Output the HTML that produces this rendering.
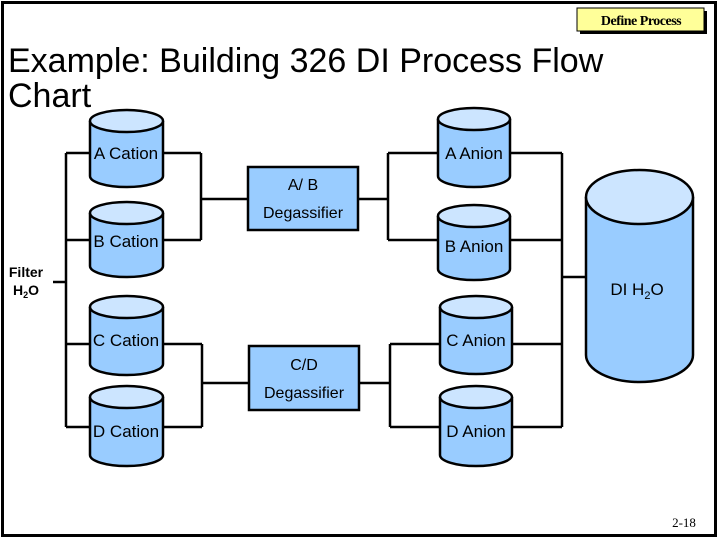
<!DOCTYPE html>
<html><head><meta charset="utf-8"><style>
html,body{margin:0;padding:0;background:#fff;}
body{width:720px;height:540px;position:relative;overflow:hidden;font-family:"Liberation Sans",Arial,sans-serif;}
</style></head><body>
<svg width="720" height="540" viewBox="0 0 720 540" xmlns="http://www.w3.org/2000/svg" style="position:absolute;left:0;top:0">
<rect x="2.5" y="2.5" width="713" height="533" fill="#fff" stroke="#000" stroke-width="3"/>
<rect x="580" y="11" width="127" height="23" fill="#000"/>
<rect x="577" y="8" width="127" height="23" fill="#ffff99" stroke="#000" stroke-width="1"/>
<text x="641" y="25" text-anchor="middle" font-family="Liberation Serif,serif" font-size="14" font-weight="bold" letter-spacing="-0.5">Define Process</text>
<text x="8" y="72" font-size="34" fill="#000">Example: Building 326 DI Process Flow</text>
<text x="8" y="107" font-size="34" fill="#000">Chart</text>
<g stroke="#000" stroke-width="2.5" fill="none">
<line x1="53" y1="282" x2="66" y2="282"/>
<line x1="66" y1="153" x2="66" y2="427"/>
<line x1="66" y1="153" x2="90" y2="153"/>
<line x1="66" y1="240" x2="90" y2="240"/>
<line x1="66" y1="344" x2="90" y2="344"/>
<line x1="66" y1="427" x2="90" y2="427"/>
<line x1="163" y1="153" x2="201" y2="153"/>
<line x1="163" y1="240" x2="201" y2="240"/>
<line x1="201" y1="153" x2="201" y2="240"/>
<line x1="201" y1="199" x2="248" y2="199"/>
<line x1="163" y1="344" x2="202" y2="344"/>
<line x1="163" y1="427" x2="202" y2="427"/>
<line x1="202" y1="344" x2="202" y2="427"/>
<line x1="202" y1="383" x2="249" y2="383"/>
<line x1="358" y1="199" x2="388" y2="199"/>
<line x1="388" y1="153" x2="388" y2="240"/>
<line x1="388" y1="153" x2="438" y2="153"/>
<line x1="388" y1="240" x2="438" y2="240"/>
<line x1="359" y1="383" x2="390" y2="383"/>
<line x1="390" y1="344" x2="390" y2="427"/>
<line x1="390" y1="344" x2="440" y2="344"/>
<line x1="390" y1="427" x2="440" y2="427"/>
<line x1="510" y1="153" x2="562" y2="153"/>
<line x1="510" y1="240" x2="562" y2="240"/>
<line x1="512" y1="344" x2="562" y2="344"/>
<line x1="512" y1="427" x2="562" y2="427"/>
<line x1="562" y1="153" x2="562" y2="427"/>
<line x1="562" y1="277" x2="586" y2="277"/>
</g>
<g stroke="#000" stroke-width="2.5">
<path d="M90,121 V176 A36.5,11 0 0 0 163,176 V121" fill="#99ccff"/><ellipse cx="126.5" cy="121" rx="36.5" ry="11" fill="#cce5ff"/>
<path d="M90,213 V266 A36.5,11 0 0 0 163,266 V213" fill="#99ccff"/><ellipse cx="126.5" cy="213" rx="36.5" ry="11" fill="#cce5ff"/>
<path d="M90,307 V364 A36.5,11 0 0 0 163,364 V307" fill="#99ccff"/><ellipse cx="126.5" cy="307" rx="36.5" ry="11" fill="#cce5ff"/>
<path d="M90,397 V455 A36.5,11 0 0 0 163,455 V397" fill="#99ccff"/><ellipse cx="126.5" cy="397" rx="36.5" ry="11" fill="#cce5ff"/>
<path d="M438,119 V176 A36,11 0 0 0 510,176 V119" fill="#99ccff"/><ellipse cx="474" cy="119" rx="36" ry="11" fill="#cce5ff"/>
<path d="M438,216 V269 A36,11 0 0 0 510,269 V216" fill="#99ccff"/><ellipse cx="474" cy="216" rx="36" ry="11" fill="#cce5ff"/>
<path d="M440,307 V363 A36,11 0 0 0 512,363 V307" fill="#99ccff"/><ellipse cx="476" cy="307" rx="36" ry="11" fill="#cce5ff"/>
<path d="M440,397 V455 A36,11 0 0 0 512,455 V397" fill="#99ccff"/><ellipse cx="476" cy="397" rx="36" ry="11" fill="#cce5ff"/>
<path d="M586,197 V355 A53.5,27 0 0 0 693,355 V197" fill="#99ccff"/><ellipse cx="639.5" cy="197" rx="53.5" ry="27" fill="#cce5ff"/>
<rect x="248" y="167" width="110" height="63" fill="#99ccff"/>
<rect x="249" y="346" width="110" height="64" fill="#99ccff"/>
</g>
<g font-size="17" fill="#000" text-anchor="middle">
<text x="126" y="159">A Cation</text>
<text x="126" y="247">B Cation</text>
<text x="126" y="346">C Cation</text>
<text x="126" y="437">D Cation</text>
<text x="474" y="159">A Anion</text>
<text x="474" y="252">B Anion</text>
<text x="476" y="346">C Anion</text>
<text x="476" y="437">D Anion</text>
<text x="303" y="190" font-size="16">A/ B</text>
<text x="303" y="218" font-size="16">Degassifier</text>
<text x="304" y="370" font-size="16">C/D</text>
<text x="304" y="398" font-size="16">Degassifier</text>
<text x="637" y="295">DI H<tspan font-size="11" dy="4">2</tspan><tspan dy="-4">O</tspan></text>
<text x="26" y="277" font-size="14" font-weight="bold">Filter</text>
<text x="26" y="295" font-size="14" font-weight="bold">H<tspan font-size="9" dy="3">2</tspan><tspan dy="-3">O</tspan></text>
</g>
<text x="684" y="527" text-anchor="middle" font-family="Liberation Serif,serif" font-size="13">2-18</text>
</svg>
</body></html>
